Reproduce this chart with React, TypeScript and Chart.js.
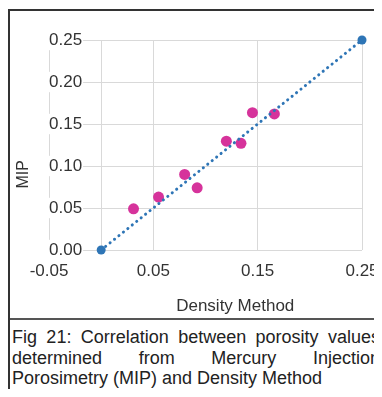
import React, { useEffect, useRef } from "react";
import Chart from "chart.js/auto";

const lineX = [0, 0.25];
const lineY = [0, 0.25];
const sampleX = [0.031, 0.055, 0.08, 0.092, 0.12, 0.134, 0.145, 0.166];
const sampleY = [0.049, 0.063, 0.09, 0.074, 0.1295, 0.127, 0.1635, 0.162];
const xTickValues = [-0.05, 0, 0.05, 0.15, 0.25];
const xTickLabels = ["-0.05", "", "0.05", "0.15", "0.25"];
const yTickValues = [0, 0.05, 0.1, 0.15, 0.2, 0.25];
const yTickLabels = ["0.00", "0.05", "0.10", "0.15", "0.20", "0.25"];
const xTitle = "Density Method";
const yTitle = "MIP";

const FONT = "'Liberation Sans', Arial, Helvetica, sans-serif";

const axisTitles = {
  id: "axisTitles",
  afterDraw(chart: any) {
    const { ctx, chartArea, height } = chart;
    const w = chartArea.right - chartArea.left;
    const h = chartArea.bottom - chartArea.top;
    ctx.save();
    ctx.fillStyle = "#333";
    ctx.textAlign = "center";
    ctx.textBaseline = "middle";
    ctx.font = `17px ${FONT}`;
    ctx.fillText(xTitle, chartArea.left + w * 0.595, height - 12);
    ctx.font = `16px ${FONT}`;
    ctx.translate(13.5, chartArea.top + h * 0.64);
    ctx.rotate(-Math.PI / 2);
    ctx.fillText(yTitle, 0, 0);
    ctx.restore();
  },
};

export default function App() {
  const ref = useRef<HTMLCanvasElement>(null);

  useEffect(() => {
    document.documentElement.style.overflow = "hidden";
    document.body.style.overflow = "hidden";
    Chart.defaults.font.family = FONT;
    const chart = new Chart(ref.current!, {
      type: "scatter",
      data: {
        datasets: [
          {
            data: lineX.map((x, i) => ({ x, y: lineY[i] })),
            showLine: true,
            borderColor: "#2E75B6",
            backgroundColor: "#2E75B6",
            borderWidth: 3,
            borderDash: [0.1, 5.6],
            borderCapStyle: "round",
            pointRadius: 4.5,
            pointBorderWidth: 0,
            clip: false,
          },
          {
            data: sampleX.map((x, i) => ({ x, y: sampleY[i] })),
            backgroundColor: "#D6339B",
            borderColor: "#D6339B",
            pointRadius: 5.5,
            pointBorderWidth: 0,
            clip: false,
          },
        ],
      },
      options: {
        animation: false,
        responsive: true,
        maintainAspectRatio: false,
        layout: { padding: { top: 29, right: 20, left: 0, bottom: 0 } },
        plugins: { legend: { display: false }, tooltip: { enabled: false } },
        scales: {
          x: {
            type: "linear",
            min: -0.05,
            max: 0.25,
            afterBuildTicks: (s: any) => {
              s.ticks = xTickValues.map((v) => ({ value: v }));
            },
            afterFit: (s: any) => {
              s.height = 68;
              s.paddingLeft = 0;
              s.paddingRight = 0;
            },
            grid: { color: "#d9d9d9", lineWidth: 1, drawTicks: false },
            border: { display: false },
            ticks: {
              autoSkip: false,
              maxRotation: 0,
              padding: 11,
              color: "#333",
              font: { size: 17 },
              callback: (v: any) => {
                const i = xTickValues.findIndex((t) => Math.abs(t - v) < 1e-9);
                return i >= 0 ? xTickLabels[i] : "";
              },
            },
            title: { display: false },
          },
          y: {
            type: "linear",
            min: 0,
            max: 0.25,
            afterBuildTicks: (s: any) => {
              s.ticks = yTickValues.map((v) => ({ value: v }));
            },
            afterFit: (s: any) => {
              s.width = 39;
            },
            grid: { color: "#d9d9d9", lineWidth: 1, drawTicks: false },
            border: { display: false },
            ticks: {
              mirror: true,
              padding: 0,
              color: "#333",
              font: { size: 17 },
              showLabelBackdrop: true,
              backdropColor: "#ffffff",
              backdropPadding: { left: 0, right: 1, top: 0, bottom: 0 },
              callback: (v: any) => {
                const i = yTickValues.findIndex((t) => Math.abs(t - v) < 1e-9);
                return i >= 0 ? yTickLabels[i] : "";
              },
            },
            title: { display: false },
          },
        },
      },
      plugins: [axisTitles],
    } as any);
    return () => chart.destroy();
  }, []);

  return (
    <div
      style={{
        marginTop: 1,
        width: 372,
        borderTop: "2px solid #333",
        borderLeft: "2px solid #333",
        background: "#fff",
      }}
    >
      <div style={{ position: "relative", width: 372, height: 307 }}>
        <canvas ref={ref} />
      </div>
      <div
        style={{
          borderTop: "2px solid #555",
          padding: "7px 2px 0 2px",
          fontFamily: FONT,
          fontSize: 18,
          lineHeight: "20.5px",
          textAlign: "justify",
          color: "#222",
        }}
      >
        Fig 21: Correlation between porosity values determined from Mercury
        Injection Porosimetry (MIP) and Density Method
      </div>
    </div>
  );
}
